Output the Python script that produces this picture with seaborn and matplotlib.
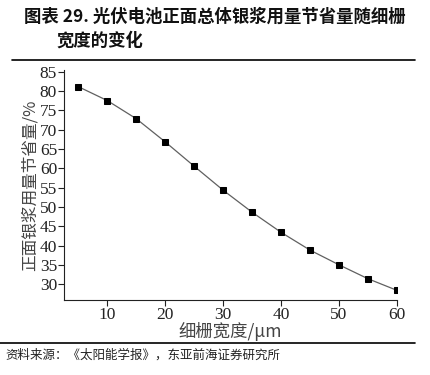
import matplotlib
matplotlib.use("Agg")
import matplotlib.pyplot as plt
import seaborn as sns
import pandas as pd

width_um = [5, 10, 15, 20, 25, 30, 35, 40, 45, 50, 55, 60]
saving_pct = [81.1, 77.5, 72.8, 66.8, 60.5, 54.3, 48.6, 43.4, 38.8, 35.0, 31.4, 28.4]
x_ticks = [10, 20, 30, 40, 50, 60]
y_ticks = [30, 35, 40, 45, 50, 55, 60, 65, 70, 75, 80, 85]

title_line1 = "图表 29. 光伏电池正面总体银浆用量节省量随细栅"
title_line2 = "宽度的变化"
xlabel_text = "细栅宽度/μm"
ylabel_text = "正面银浆用量节省量/%"
source_text = "资料来源：《太阳能学报》，东亚前海证券研究所"

sns.set_style("ticks")
plt.rcParams['font.family'] = ['Liberation Serif', 'Noto Sans CJK SC', 'DejaVu Sans']

df = pd.DataFrame({"w": width_um, "s": saving_pct})

fig = plt.figure(figsize=(4.31, 3.75), dpi=100)
ax = fig.add_axes([0.1485, 0.2, 0.7725, 0.613])
sns.lineplot(data=df, x="w", y="s", ax=ax, color="#606060", linewidth=0.9,
             marker="s", markersize=5, markerfacecolor="black",
             markeredgecolor="black")
ax.set_xlim(2.5, 60)
ax.set_ylim(25.9, 85.4)
ax.set_xticks(x_ticks)
ax.set_yticks(y_ticks)
ax.tick_params(axis="both", labelsize=12.5, length=4, width=0.8, pad=1,
               colors="#222222", labelcolor="#222222")
for s in ["top", "right"]:
    ax.spines[s].set_visible(False)
for s in ["left", "bottom"]:
    ax.spines[s].set_linewidth(0.8)
    ax.spines[s].set_color("#222222")
ax.set_xlabel(xlabel_text, fontsize=12.5, color="#444444", labelpad=-1,
              family=['Noto Sans CJK SC', 'DejaVu Sans'])
ax.set_ylabel(ylabel_text, fontsize=12, color="#444444", labelpad=1,
              family=['Noto Sans CJK SC', 'DejaVu Sans'])

cjk = ['Noto Sans CJK SC', 'DejaVu Sans']
fig.text(0.056, 0.955, title_line1, fontsize=12.5, fontweight="bold",
         va="center", ha="left", color="#111111", family=cjk)
fig.text(0.13, 0.893, title_line2, fontsize=12.5, fontweight="bold",
         va="center", ha="left", color="#111111", family=cjk)
fig.add_artist(plt.Line2D([0.028, 0.963], [0.84, 0.84], color="black", linewidth=1.2))
fig.add_artist(plt.Line2D([0.0, 0.963], [0.085, 0.085], color="black", linewidth=1.2))
fig.text(0.012, 0.053, source_text, fontsize=9, va="center", ha="left",
         color="#222222", family=cjk)

fig.savefig("out.png", dpi=100)
